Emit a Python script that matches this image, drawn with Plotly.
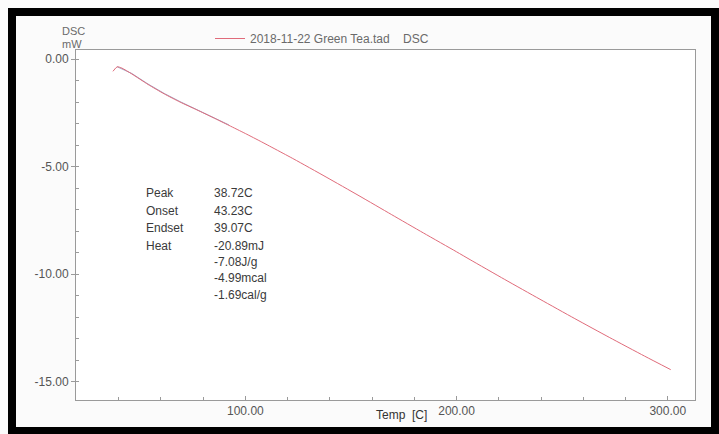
import plotly.graph_objects as go

# ---- data ----
temp_c = [37.3, 39.3, 41.5, 46.2, 53.9, 61.6, 69.1, 77.0, 84.7, 92.2, 100.0,
          107.7, 115.2, 123.0, 138.2, 153.8, 169.1, 184.3, 199.9, 206.4,
          222.8, 239.5, 256.0, 272.3, 289.0, 301.4]
dsc_mw = [-0.57, -0.36, -0.42, -0.69, -1.18, -1.62, -2.00, -2.36, -2.72, -3.08, -3.46,
          -3.85, -4.24, -4.65, -5.48, -6.35, -7.22, -8.08, -8.95, -9.32,
          -10.24, -11.16, -12.06, -12.93, -13.80, -14.43]

baseline_temp = [39.3, 46.2, 53.9, 61.6, 69.1, 77.0, 84.7, 92.2]
baseline_mw = [-0.36, -0.67, -1.16, -1.60, -1.98, -2.34, -2.70, -3.06]

series_name = "2018-11-22 Green Tea.tad\u00a0\u00a0\u00a0\u00a0DSC"

x_tick_vals = [100, 200, 300]
x_tick_text = ["100.00", "200.00", "300.00"]
y_tick_vals = [0, -5, -10, -15]
y_tick_text = ["0.00", "-5.00", "-10.00", "-15.00"]

result_labels = ["Peak", "Onset", "Endset", "Heat"]
result_values = ["38.72C", "43.23C", "39.07C", "-20.89mJ", "-7.08J/g", "-4.99mcal", "-1.69cal/g"]

# ---- layout geometry (pixels) ----
W, H = 719, 434
L, R, T, B = 76, 24, 50, 34
PW, PH = W - L - R, H - T - B


def px2x(px):
    return (px - L) / PW


def py2y(py):
    return (H - B - py) / PH


fig = go.Figure()
fig.add_trace(go.Scatter(x=baseline_temp, y=baseline_mw, mode="lines",
                         line=dict(color="rgba(120,130,175,0.7)", width=1),
                         showlegend=False, hoverinfo="skip"))
fig.add_trace(go.Scatter(x=temp_c, y=dsc_mw, mode="lines", name=series_name,
                         line=dict(color="#e06b7a", width=1, shape="spline", smoothing=0.6)))

axis_col = "#9a9a9a"
font_col = "#555555"
light_col = "#6a6a6a"

fig.update_xaxes(range=[19.8, 312.9], showline=True, linecolor=axis_col, linewidth=1,
                 mirror=True, showgrid=False, zeroline=False,
                 tickmode="array", tickvals=x_tick_vals, ticktext=x_tick_text,
                 ticks="inside", ticklen=4, tickcolor=axis_col,
                 minor=dict(dtick=20, tick0=0, ticks="inside", ticklen=3, tickcolor=axis_col),
                 tickfont=dict(size=12, color=font_col, family="Liberation Sans"))
fig.update_yaxes(range=[-15.84, 0.42], showline=True, linecolor=axis_col, linewidth=1,
                 mirror=True, showgrid=False, zeroline=False,
                 tickmode="array", tickvals=y_tick_vals, ticktext=y_tick_text,
                 ticks="outside", ticklen=4, tickcolor=axis_col,
                 minor=dict(dtick=1, tick0=0, ticks="inside", ticklen=3, tickcolor=axis_col),
                 tickfont=dict(size=12, color=font_col, family="Liberation Sans"))

annotations = []
# axis titles
annotations.append(dict(x=px2x(73), y=py2y(31), xref="paper", yref="paper",
                        text="DSC", showarrow=False, xanchor="center", yanchor="middle",
                        font=dict(size=11, color=light_col, family="Liberation Sans")))
annotations.append(dict(x=px2x(72), y=py2y(44), xref="paper", yref="paper",
                        text="mW", showarrow=False, xanchor="center", yanchor="middle",
                        font=dict(size=11, color=light_col, family="Liberation Sans")))
annotations.append(dict(x=px2x(401), y=py2y(415), xref="paper", yref="paper",
                        text="Temp\u00a0\u00a0[C]", showarrow=False, xanchor="center", yanchor="middle",
                        font=dict(size=12, color="#333333", family="Liberation Sans")))

label_y = [193, 211, 228, 246]
value_y = [193, 211, 228, 246, 262, 278, 295]
for lab, py in zip(result_labels, label_y):
    annotations.append(dict(x=px2x(144), y=py2y(py), xref="paper", yref="paper",
                            text=lab, showarrow=False, xanchor="left", yanchor="middle",
                            font=dict(size=12, color="#3a3a3a", family="Liberation Sans")))
for val, py in zip(result_values, value_y):
    annotations.append(dict(x=px2x(212), y=py2y(py), xref="paper", yref="paper",
                            text=val, showarrow=False, xanchor="left", yanchor="middle",
                            font=dict(size=12, color="#3a3a3a", family="Liberation Sans")))

# black photo frame
frame = [(8, 8, 719, 16), (8, 8, 16, 434), (711, 8, 719, 434), (8, 427, 719, 434)]
shapes = []
for x0, y0, x1, y1 in frame:
    shapes.append(dict(type="rect", xref="paper", yref="paper",
                       x0=px2x(x0), x1=px2x(x1), y0=py2y(y1), y1=py2y(y0),
                       fillcolor="black", line=dict(width=0), layer="above"))

fig.update_layout(
    width=W, height=H,
    margin=dict(l=L, r=R, t=T, b=B),
    paper_bgcolor="#fbfbfb", plot_bgcolor="#ffffff",
    showlegend=True,
    legend=dict(x=px2x(210), y=py2y(24), xanchor="left", yanchor="top",
                orientation="h", bgcolor="rgba(0,0,0,0)", borderwidth=0,
                font=dict(size=12, color=light_col, family="Liberation Sans")),
    annotations=annotations,
    shapes=shapes,
)

fig.write_html("out.html")
